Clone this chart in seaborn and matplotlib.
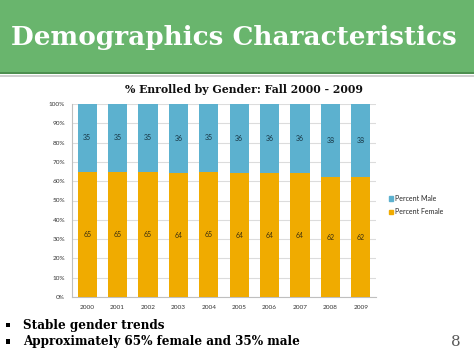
import matplotlib
matplotlib.use("Agg")
import matplotlib.pyplot as plt
from matplotlib.patches import Rectangle
import seaborn as sns
import pandas as pd

# ---- data ----
years = ["2000", "2001", "2002", "2003", "2004", "2005", "2006", "2007", "2008", "2009"]
pct_female = [65, 65, 65, 64, 65, 64, 64, 64, 62, 62]
pct_male = [35, 35, 35, 36, 35, 36, 36, 36, 38, 38]
y_ticks = [0, 10, 20, 30, 40, 50, 60, 70, 80, 90, 100]
y_tick_labels = [f"{v}%" for v in y_ticks]
slide_title = "Demographics Characteristics"
chart_title = "% Enrolled by Gender: Fall 2000 - 2009"
bullets = ["Stable gender trends", "Approximately 65% female and 35% male"]
page_number = "8"

C_MALE = "#5cb1cf"
C_FEMALE = "#f0ab00"
GREEN = "#69b56d"

W, H = 474, 355
sns.set_theme(style="white")
plt.rcParams["font.family"] = ["DejaVu Sans"]

fig = plt.figure(figsize=(W / 100, H / 100), dpi=100)
fig.patch.set_facecolor("white")

def px(x, y):
    return x / W, 1 - y / H

# header band
fig.patches.append(Rectangle((0, 1 - 72 / H), 1, 72 / H, transform=fig.transFigure,
                             facecolor=GREEN, edgecolor="none", zorder=0))
fig.patches.append(Rectangle((0, 1 - 73.5 / H), 1, 1.8 / H, transform=fig.transFigure,
                             facecolor="#4d8f50", edgecolor="none", zorder=1))
fig.patches.append(Rectangle((0, 1 - 76.5 / H), 1, 1.2 / H, transform=fig.transFigure,
                             facecolor="#d0d0d0", edgecolor="none", zorder=1))

renderer = fig.canvas.get_renderer()

def fit(t, target):
    for _ in range(4):
        w = t.get_window_extent(renderer=renderer).width
        t.set_fontsize(t.get_fontsize() * target / w)

t = fig.text(*px(233.5, 45.5), slide_title, color="white", fontsize=20, fontweight="bold",
             family="DejaVu Serif", ha="center", va="baseline")
fit(t, 447)

t = fig.text(*px(244, 93), chart_title, color="#111111", fontsize=9, fontweight="bold",
             family="DejaVu Serif", ha="center", va="baseline")
fit(t, 240)

# chart axes
ax_l, ax_r, ax_t, ax_b = 72, 376, 104, 297
ax = fig.add_axes([ax_l / W, 1 - ax_b / H, (ax_r - ax_l) / W, (ax_b - ax_t) / H])

df = pd.DataFrame({"year": years, "female": pct_female, "male": pct_male})
df["total"] = df["female"] + df["male"]

sns.barplot(data=df, x="year", y="total", color=C_MALE, width=0.63, saturation=1,
            ax=ax, label="Percent Male", zorder=3, linewidth=0)
sns.barplot(data=df, x="year", y="female", color=C_FEMALE, width=0.63, saturation=1,
            ax=ax, label="Percent Female", zorder=3, linewidth=0)

for i, (f, m) in enumerate(zip(pct_female, pct_male)):
    ax.text(i, f / 2, str(f), ha="center", va="center", fontsize=5,
            color="#3d3010", family="Lato", zorder=4)
    ax.text(i, f + m / 2, str(m), ha="center", va="center", fontsize=5,
            color="#173442", family="Lato", zorder=4)

ax.set_ylim(0, 100)
ax.set_xlim(-0.5, len(years) - 0.5)
ax.set_yticks(y_ticks)
ax.set_yticklabels(y_tick_labels)
ax.yaxis.grid(True, color="#dcdcdc", linewidth=0.8, zorder=0)
ax.set_axisbelow(True)
ax.set_xlabel("")
ax.set_ylabel("")
for s in ["top", "right"]:
    ax.spines[s].set_visible(False)
ax.spines["left"].set_color("#bfbfbf")
ax.spines["bottom"].set_color("#bfbfbf")
ax.spines["left"].set_linewidth(0.8)
ax.spines["bottom"].set_linewidth(0.8)
ax.tick_params(axis="both", length=0, labelsize=4.6, colors="#333333")
ax.tick_params(axis="x", pad=6)
ax.tick_params(axis="y", pad=5)
for lab in ax.get_xticklabels() + ax.get_yticklabels():
    lab.set_family("Lato")
if ax.get_legend() is not None:
    ax.get_legend().remove()

handles = [Rectangle((0, 0), 1, 1, color=C_MALE), Rectangle((0, 0), 1, 1, color=C_FEMALE)]
fig.legend(handles, ["Percent Male", "Percent Female"], loc="center left",
           bbox_to_anchor=px(383, 205), frameon=False,
           handlelength=0.55, handleheight=0.55, handletextpad=0.3, labelspacing=0.9,
           prop={"family": "Lato", "size": 5})

# bullets
bt = []
for base, txt in zip([329, 345.5], bullets):
    fig.patches.append(Rectangle(px(6, base - 2), 4 / W, 4.5 / H, transform=fig.transFigure,
                                 facecolor="black", edgecolor="none"))
    bt.append(fig.text(*px(23, base), txt, color="black", fontsize=9.5, fontweight="bold",
                       family="DejaVu Serif", ha="left", va="baseline"))
fit(bt[1], 278)
bt[0].set_fontsize(bt[1].get_fontsize())

fig.text(*px(456, 346), page_number, color="#595959", fontsize=11,
         family="DejaVu Serif", ha="center", va="baseline")

fig.savefig("out.png", dpi=100, facecolor="white")
